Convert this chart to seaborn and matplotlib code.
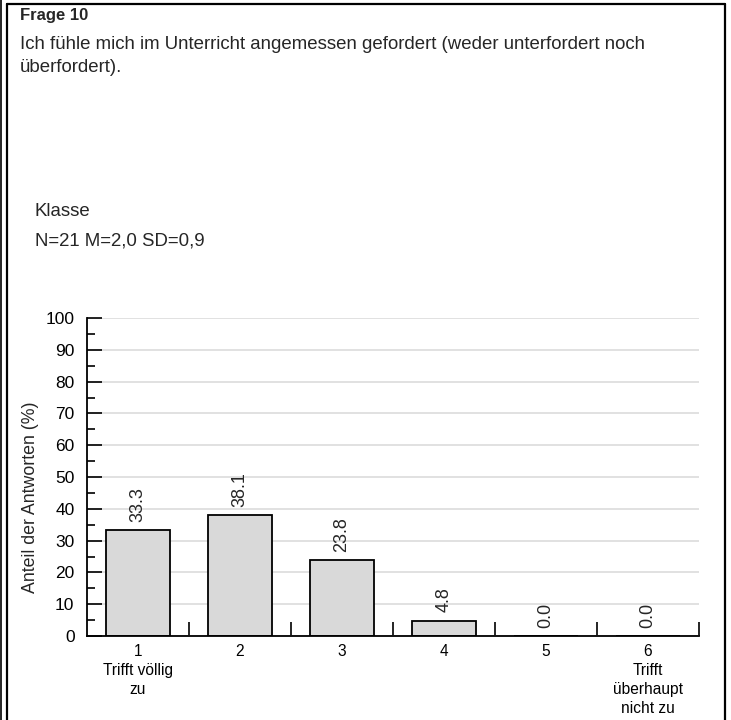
import matplotlib
matplotlib.use('Agg')
import matplotlib.pyplot as plt
import seaborn as sns
import pandas as pd
from matplotlib.lines import Line2D
from matplotlib.ticker import MultipleLocator, FixedLocator

# ---- data ----
categories = ['1', '2', '3', '4', '5', '6']
tick_labels = ['1\nTrifft völlig\nzu', '2', '3', '4', '5', '6\nTrifft\nüberhaupt\nnicht zu']
values = [33.3, 38.1, 23.8, 4.8, 0.0, 0.0]
title = 'Frage 10'
question = 'Ich fühle mich im Unterricht angemessen gefordert (weder unterfordert noch\nüberfordert).'
group = 'Klasse'
stats = 'N=21 M=2,0 SD=0,9'
ylabel = 'Anteil der Antworten (%)'

sns.set_theme(style='white')
plt.rcParams['font.family'] = ['Liberation Sans', 'DejaVu Sans']

W, H = 731, 720
fig = plt.figure(figsize=(W / 100, H / 100), dpi=100)


def fx(px):
    return px / W


def fy(py):
    return 1 - py / H


# frame
fig.add_artist(Line2D([fx(7), fx(7)], [fy(4), 0], transform=fig.transFigure, color='black', lw=1.6))
fig.add_artist(Line2D([fx(7), fx(725)], [fy(4), fy(4)], transform=fig.transFigure, color='black', lw=1.6))
fig.add_artist(Line2D([fx(725), fx(725)], [fy(4), 0], transform=fig.transFigure, color='black', lw=1.6))
fig.add_artist(Line2D([fx(1), fx(1)], [1, 0], transform=fig.transFigure, color='black', lw=1.2))

# texts
fig.text(fx(20), fy(8), title, fontsize=12, fontweight='bold', va='top', ha='left')
fig.text(fx(20), fy(36), question, fontsize=13.4, va='top', ha='left', linespacing=1.5)
fig.text(fx(35), fy(203), group, fontsize=13.4, va='top', ha='left')
fig.text(fx(35), fy(233), stats, fontsize=13.4, va='top', ha='left')

ax = fig.add_axes([fx(87), fy(636), fx(699) - fx(87), fy(318) - fy(636)])
df = pd.DataFrame({'cat': categories, 'val': values})
sns.barplot(data=df, x='cat', y='val', color='#d9d9d9', saturation=1, edgecolor='black',
            linewidth=1.3, width=0.63, ax=ax, errorbar=None)

ax.set_xlim(-0.5, 5.5)
ax.set_ylim(0, 100)
ax.set_xlabel('')
ax.set_ylabel(ylabel, fontsize=12.8)
ax.yaxis.set_label_coords(-0.078, 0.435)

for s in ['top', 'right']:
    ax.spines[s].set_visible(False)
for s in ['left', 'bottom']:
    ax.spines[s].set_color('black')
    ax.spines[s].set_linewidth(1.3)

ax.yaxis.set_major_locator(MultipleLocator(10))
ax.yaxis.set_minor_locator(MultipleLocator(5))
ax.tick_params(axis='y', which='major', direction='in', length=11, width=1.2, color='black',
               labelsize=12.5, pad=9, left=True, labelcolor='black')
ax.tick_params(axis='y', which='minor', direction='in', length=5.5, width=1.2, color='black', left=True)

ax.set_xticks(range(len(categories)))
ax.set_xticklabels(tick_labels, linespacing=1.32)
ax.xaxis.set_minor_locator(FixedLocator([i + 0.5 for i in range(len(categories))]))
ax.tick_params(axis='x', which='major', length=0, labelsize=11.2, pad=6, labelcolor='black')
ax.tick_params(axis='x', which='minor', direction='in', length=10, width=1.2, color='black', bottom=True)

ax.yaxis.grid(True, which='major', color='#dcdcdc', lw=1.2)
ax.xaxis.grid(False)
ax.set_axisbelow(True)

for c in ax.containers:
    ax.bar_label(c, fmt='%.1f', rotation=90, padding=6, fontsize=13)

fig.savefig('out.png', dpi=100)
